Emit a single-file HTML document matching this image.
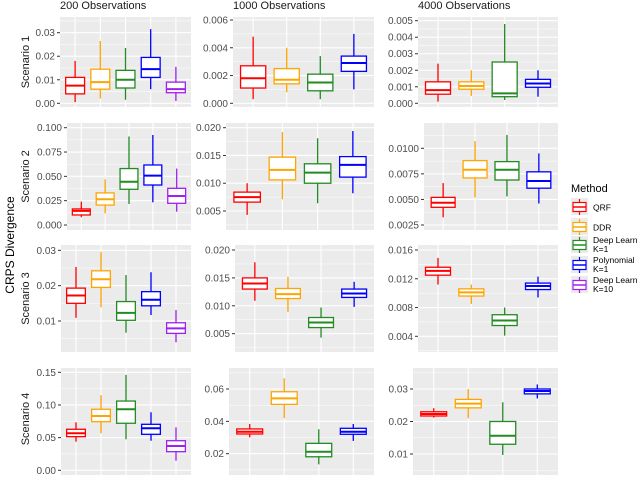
<!DOCTYPE html>
<html><head><meta charset="utf-8"><style>
body{margin:0;background:#fff;width:640px;height:475px;overflow:hidden;font-family:"Liberation Sans",sans-serif}
</style></head><body>
<svg id="chart" width="640" height="475" xmlns="http://www.w3.org/2000/svg" font-family="Liberation Sans, sans-serif"></svg>
<script>
const methods = ["QRF","DDR","Deep Learn K=1","Polynomial K=1","Deep Learn K=10"];
const colors = ["#ff0000","#ffa500","#228b22","#0000ff","#a020f0"];
const colTitles = ["200 Observations","1000 Observations","4000 Observations"];
const rowTitles = ["Scenario 1","Scenario 2","Scenario 3","Scenario 4"];
// stats: [low whisker, q1, median, q3, high whisker]
const r1c1 = [[.0005,.004,.0075,.011,.018],[.002,.006,.009,.0145,.0265],[.0015,.0065,.010,.014,.0235],[.006,.011,.0145,.0195,.0315],[.001,.0045,.006,.009,.0155]];
const r1c2 = [[.0003,.0011,.0018,.0027,.0048],[.0008,.0014,.0017,.0025,.004],[.0003,.0009,.0015,.0021,.0034],[.001,.0023,.0029,.0034,.005]];
const r1c3 = [[.0001,.00055,.0008,.0013,.0024],[.00045,.00085,.00105,.0013,.002],[.0002,.0004,.0006,.0025,.0048],[.0004,.00097,.0012,.00145,.002]];
const r2c1 = [[.008,.0103,.0145,.0165,.024],[.012,.0205,.0265,.033,.047],[.0216,.0367,.0445,.058,.091],[.0233,.0411,.0507,.0617,.0925],[.0137,.0223,.0298,.0377,.058]];
const r2c2 = [[.0043,.0066,.0075,.0084,.010],[.0071,.0106,.0124,.0147,.0192],[.0064,.010,.0119,.0135,.0181],[.0082,.0111,.0133,.0148,.0194]];
const r2c3 = [[.00325,.00423,.00468,.0052,.0066],[.0052,.0071,.0079,.0088,.0107],[.0053,.0069,.0079,.0087,.0113],[.0046,.0061,.0068,.0077,.0095]];
const r3c1 = [[.0109,.015,.0172,.0193,.0253],[.0139,.0195,.0218,.0242,.0295],[.0067,.0102,.0123,.0155,.023],[.0117,.0143,.016,.0183,.0238],[.004,.0065,.0079,.0095,.0131]];
const r3c2 = [[.0109,.013,.014,.015,.0178],[.0089,.0113,.0121,.0131,.0152],[.0043,.0061,.007,.0079,.0097],[.0098,.0115,.0122,.013,.0143]];
const r3c3 = [[.0112,.0125,.0131,.0136,.0149],[.0085,.0096,.0101,.0106,.0112],[.0041,.0055,.0062,.007,.008],[.0094,.0105,.011,.0114,.0123]];
const r4c1 = [[.0438,.0515,.0567,.0628,.0735],[.0567,.0744,.0832,.0934,.115],[.0475,.072,.0934,.106,.146],[.0453,.0551,.0643,.0704,.0888],[.0147,.0285,.0372,.0453,.0658]];
const r4c2 = [[.0301,.0322,.0336,.0353,.0384],[.0419,.0505,.0542,.0583,.0666],[.0134,.0181,.0212,.0264,.0351],[.0279,.032,.0336,.0357,.0384]];
const r4c3 = [[.0212,.0217,.0223,.023,.0241],[.021,.0242,.0255,.0268,.030],[.0097,.013,.0156,.020,.0259],[.0271,.0285,.0294,.030,.0314]];
const panelData = [[r1c1,r1c2,r1c3],[r2c1,r2c2,r2c3],[r3c1,r3c2,r3c3],[r4c1,r4c2,r4c3]];
const tickLabels = [
 [["0.00","0.01","0.02","0.03"],["0.000","0.002","0.004","0.006"],["0.000","0.001","0.002","0.003","0.004","0.005"]],
 [["0.000","0.025","0.050","0.075","0.100"],["0.005","0.010","0.015","0.020"],["0.0025","0.0050","0.0075","0.0100"]],
 [["0.01","0.02","0.03"],["0.005","0.010","0.015","0.020"],["0.004","0.008","0.012","0.016"]],
 [["0.00","0.05","0.10","0.15"],["0.02","0.04","0.06"],["0.01","0.02","0.03"]]];
// calibration: [value, pixel] pairs for two reference ticks
const calib = [
 [[0,103.3,.03,32.7],[0,103.3,.006,20],[0,103.3,.005,20.7]],
 [[0,225,.1,127.7],[.005,211,.02,127.7],[.0025,225,.01,148.3]],
 [[.01,321,.03,250.3],[.005,333.7,.02,250],[.004,336.3,.016,250]],
 [[0,470.3,.15,372.3],[.02,453.7,.06,389],[.01,454,.03,389]]];
const lefts = [[60,233,418],[67,226,424],[61,235,418],[61,229,413]];
const rights = [191,374,558];
const tops = [17,123,245,368], bottoms = [107,230,352,475];

const svg = document.getElementById('chart');
const NS = "http://www.w3.org/2000/svg";
function mk(tag, attrs, parent){const e=document.createElementNS(NS,tag);for(const k in attrs)e.setAttribute(k,attrs[k]);(parent||svg).appendChild(e);return e;}

colTitles.forEach((t,c)=>{
  const e = mk('text',{x:lefts[0][c],y:9,'font-size':11,fill:'#1a1a1a'});
  e.textContent=t;
  
  
});
const yt = mk('text',{x:0,y:0,'font-size':12,fill:'#000','text-anchor':'middle',transform:'translate(14,245) rotate(-90)'});
yt.textContent='CRPS Divergence';



for(let r=0;r<4;r++){
  const rt = mk('text',{x:0,y:0,'font-size':11,fill:'#1a1a1a','text-anchor':'middle',transform:`translate(29,${(tops[r]+Math.min(bottoms[r],470))/2}) rotate(-90)`});
  rt.textContent=rowTitles[r];
  
  
  for(let c=0;c<3;c++){
    const g = mk('g',{});
    
    
    const L=lefts[r][c],R=rights[c],T=tops[r],B=bottoms[r];
    const [v0,p0,v1,p1]=calib[r][c];
    const y=v=>p0+(v-v0)*(p1-p0)/(v1-v0);
    mk('rect',{x:L,y:T,width:R-L,height:B-T,fill:'#ebebeb'},g);
    const labs=tickLabels[r][c];
    const vals=labs.map(parseFloat);
    const step=vals[1]-vals[0];
    for(let k=-1;k<vals.length;k++){
      const mv=(k<0?vals[0]:vals[k])+(k<0?-step/2:step/2);
      const py=y(mv);
      if(py>T&&py<B) mk('line',{x1:L,x2:R,y1:py,y2:py,stroke:'#fff','stroke-width':0.5},g);
    }
    labs.forEach((lab,i)=>{
      const py=y(vals[i]);
      mk('line',{x1:L,x2:R,y1:py,y2:py,stroke:'#fff','stroke-width':1.1},g);
      mk('line',{x1:L-3,x2:L,y1:py,y2:py,stroke:'#333','stroke-width':1},g);
      const t=mk('text',{x:L-5,y:py+3.5,'font-size':10,fill:'#4d4d4d','text-anchor':'end'},g);
      t.textContent=lab;
      
      
    });
    const data=panelData[r][c], n=data.length;
    const unit=(R-L)/(n-1+1.2);
    data.forEach((s,i)=>{
      const cx=L+unit*(0.6+i);
      mk('line',{x1:cx,x2:cx,y1:T,y2:B,stroke:'#fff','stroke-width':1.1},g);
    });
    data.forEach((s,i)=>{
      const cx=L+unit*(0.6+i), hw=unit*0.375, col=colors[i];
      const bg=mk('g',{},g);
      
      
      mk('line',{x1:cx,x2:cx,y1:y(s[0]),y2:y(s[1]),stroke:col,'stroke-width':1.3},bg);
      mk('line',{x1:cx,x2:cx,y1:y(s[3]),y2:y(s[4]),stroke:col,'stroke-width':1.3},bg);
      mk('rect',{x:cx-hw,y:y(s[3]),width:2*hw,height:Math.max(0.5,y(s[1])-y(s[3])),fill:'#fff',stroke:col,'stroke-width':1.3},bg);
      mk('line',{x1:cx-hw,x2:cx+hw,y1:y(s[2]),y2:y(s[2]),stroke:col,'stroke-width':2},bg);
    });
  }
}
// legend
const lg=mk('g',{});


const lt=mk('text',{x:571,y:192,'font-size':11,fill:'#000'},lg);
lt.textContent='Method';
const legLabels=[["QRF"],["DDR"],["Deep Learn"," K=1"],["Polynomial"," K=1"],["Deep Learn"," K=10"]];
const legY=[207,227,245,265,285];
legLabels.forEach((ls,i)=>{
  const e=mk('g',{},lg);
  
  
  const cy=legY[i], col=colors[i];
  mk('rect',{x:571,y:cy-9,width:17,height:17,fill:'#ebebeb'},e);
  mk('line',{x1:579.5,x2:579.5,y1:cy-8,y2:cy+8,stroke:col,'stroke-width':1.2},e);
  mk('rect',{x:573,y:cy-4.5,width:13,height:9,fill:'#fff',stroke:col,'stroke-width':1.2},e);
  mk('line',{x1:573,x2:586,y1:cy,y2:cy,stroke:col,'stroke-width':1.5},e);
  ls.forEach((s,j)=>{
    const t=mk('text',{x:593,y:(ls.length===1?cy+3.5:cy-2+j*9),'font-size':8.5,fill:'#000'},e);
    t.textContent=s;
  });
});
</script>
</body></html>
